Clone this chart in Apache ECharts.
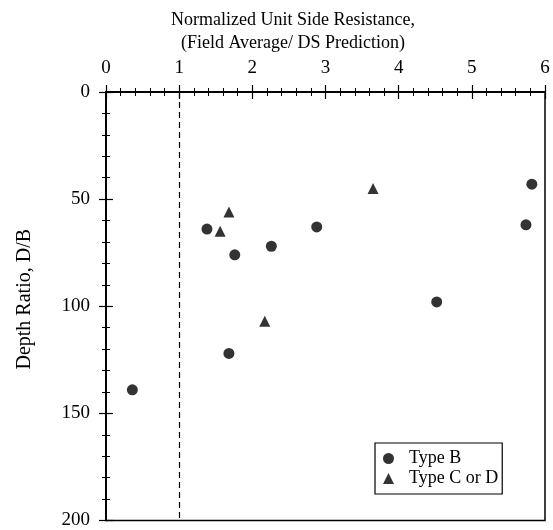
<!DOCTYPE html>
<html>
<head>
	<meta charset="UTF-8">
	<title>Normalized Unit Side Resistance</title>
	<script src="https://cdn.jsdelivr.net/npm/echarts@6/dist/echarts.min.js"></script>
	<style>
		html, body { margin: 0; padding: 0; background: #fff; }
		#show { width: 553px; height: 530px; }
	</style>
</head>
<body>
<div id="show"></div>

<script type="text/javascript">
	// Type B (circles): [ratio, depth]
	var typeB = [
		[5.82, 43], [5.74, 62], [1.38, 64], [2.88, 63], [2.26, 72],
		[1.76, 76], [4.52, 98], [1.68, 122], [0.36, 139]
	];
	// Type C or D (triangles)
	var typeCD = [
		[3.65, 45], [1.68, 56], [1.56, 65], [2.17, 107]
	];
	var refLine = 1;

	var serif = 'Liberation Serif';
	var myChart = echarts.init(document.getElementById('show'));

	var tickStyle = {show: true, inside: true, length: 7, lineStyle: {color: '#000', width: 1.2}};
	var minorStyle = {show: true, splitNumber: 5, length: 4, lineStyle: {color: '#000', width: 1}};

	option = {
		animation: false,
		title: {
			text: 'Normalized Unit Side Resistance,\n(Field Average/ DS Prediction)',
			left: 288,
			top: 4,
			textAlign: 'center',
			textStyle: {fontFamily: serif, fontSize: 18, fontWeight: 'normal', color: '#000', lineHeight: 23}
		},
		grid: {left: 106, right: 8, top: 92, bottom: 8, show: true, borderColor: '#000', borderWidth: 1.5},
		legend: {
			orient: 'vertical',
			left: 375,
			top: 443,
			padding: [6, 4, 6, 8],
			itemGap: 1,
			itemWidth: 11,
			itemHeight: 11,
			borderColor: '#000',
			borderWidth: 1.2,
			borderRadius: 0,
			backgroundColor: '#fff',
			textStyle: {fontFamily: serif, fontSize: 18, color: '#000', lineHeight: 19, padding: [0, 0, 0, 10]},
			data: [
				{name: 'Type B', icon: 'circle'},
				{name: 'Type C or D', icon: 'triangle'}
			]
		},
		xAxis: [{
			type: 'value', position: 'top', min: 0, max: 6, interval: 1,
			axisLine: {show: true, lineStyle: {color: '#000', width: 1.5}},
			axisTick: tickStyle, minorTick: minorStyle,
			axisLabel: {fontFamily: serif, fontSize: 19, color: '#000', margin: 14},
			splitLine: {show: false}
		}, {
			type: 'value', position: 'bottom', min: 0, max: 6, interval: 1,
			axisLine: {show: true, lineStyle: {color: '#000', width: 1.5}},
			axisTick: tickStyle, minorTick: minorStyle,
			axisLabel: {show: false}, splitLine: {show: false}
		}],
		yAxis: [{
			type: 'value', inverse: true, min: 0, max: 200, interval: 50,
			name: 'Depth Ratio, D/B', nameLocation: 'middle', nameGap: 71,
			nameTextStyle: {fontFamily: serif, fontSize: 20, color: '#000', padding: [0, 0, 0, 14]},
			axisLine: {show: true, lineStyle: {color: '#000', width: 1.5}},
			axisTick: tickStyle, minorTick: minorStyle,
			axisLabel: {fontFamily: serif, fontSize: 19, color: '#000', margin: 16},
			splitLine: {show: false}
		}, {
			type: 'value', position: 'right', inverse: true, min: 0, max: 200, interval: 50,
			axisLine: {show: true, lineStyle: {color: '#000', width: 1.5}},
			axisTick: tickStyle, minorTick: minorStyle,
			axisLabel: {show: false}, splitLine: {show: false}
		}],
		series: [{
			name: 'Type B',
			type: 'scatter',
			symbol: 'circle',
			symbolSize: 11,
			itemStyle: {color: '#000'},
			data: typeB,
			markLine: {
				silent: true,
				symbol: 'none',
				label: {show: false},
				lineStyle: {color: '#000', type: [6, 4], width: 1.2},
				data: [{xAxis: refLine}]
			}
		}, {
			name: 'Type C or D',
			type: 'scatter',
			symbol: 'triangle',
			symbolSize: 11,
			itemStyle: {color: '#000'},
			data: typeCD
		}]
	};

	myChart.setOption(option);
</script>
</body>
</html>
